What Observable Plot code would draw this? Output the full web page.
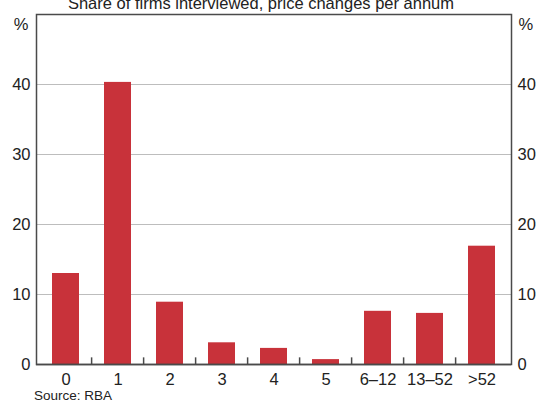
<!DOCTYPE html>
<html>
<head>
<meta charset="utf-8">
<script src="https://cdn.jsdelivr.net/npm/d3@7"></script>
<script src="https://cdn.jsdelivr.net/npm/@observablehq/plot@0.6"></script>
<style>
  html, body { margin: 0; padding: 0; background: #fff; overflow: hidden; }
  body { width: 538px; height: 402px; font-family: "Liberation Sans", Arial, sans-serif; color: #222; }
  #title { position: relative; height: 10px; }
  #title span { position: absolute; top: -5px; left: 0; width: 522px; text-align: center; font-size: 16.5px; line-height: 16px; white-space: nowrap; }
  #chart svg { display: block; }
  #source { font-size: 13.5px; line-height: 11px; height: 11px; padding-left: 34px; padding-top: 2px; }
</style>
</head>
<body>
<div id="title"><span>Share of firms interviewed, price changes per annum</span></div>
<div id="chart"></div>
<div id="source">Source: RBA</div>
<script>
const categories = ["0", "1", "2", "3", "4", "5", "6–12", "13–52", ">52"];
const shares = [13.0, 40.3, 8.9, 3.1, 2.3, 0.7, 7.6, 7.3, 16.9];
const yTicks = [0, 10, 20, 30, 40];
const unitLabel = "%";
const titleText = "Share of firms interviewed, price changes per annum";
const sourceText = "Source: RBA";

const data = categories.map((c, i) => ({category: c, share: shares[i]}));

const width = 538, height = 378;
const marginLeft = 36, marginRight = 27, marginTop = 4, marginBottom = 24;
const padInner = 0.49, padOuter = 0.245;
const step = (width - marginLeft - marginRight) / (categories.length - padInner + 2 * padOuter);

const axisColor = "#4a4a4a";
const fs = 16.5;

const chart = Plot.plot({
  width, height, marginLeft, marginRight, marginTop, marginBottom,
  style: {fontFamily: "'Liberation Sans', Arial, sans-serif", fontSize: fs + "px", color: "#222", background: "#fff"},
  x: {domain: categories, paddingInner: padInner, paddingOuter: padOuter, label: null},
  y: {domain: [0, 50], label: null},
  marks: [
    Plot.gridY(yTicks.slice(1), {stroke: "#bdbdbd", strokeOpacity: 1, strokeWidth: 1}),
    Plot.barY(data, {x: "category", y: "share", fill: "#c8323a"}),
    Plot.ruleX(categories.slice(1), {x: d => d, y1: 0, y2: 0.95, dx: -step / 2, stroke: axisColor, strokeWidth: 1.5}),
    Plot.ruleY([0], {stroke: axisColor, strokeWidth: 1.5}),
    Plot.frame({stroke: axisColor, strokeWidth: 1.5}),
    Plot.axisY(yTicks, {anchor: "left", tickSize: 0, tickPadding: 6, label: null, fill: "#222", fontSize: fs}),
    Plot.axisY(yTicks, {anchor: "right", tickSize: 0, tickPadding: 6, label: null, fill: "#222", fontSize: fs}),
    Plot.axisX({anchor: "bottom", tickSize: 0, tickPadding: 9, label: null, fill: "#222", fontSize: fs}),
    Plot.text([unitLabel], {frameAnchor: "top-left", text: d => d, dx: -8, dy: 4, textAnchor: "end", fill: "#222", fontSize: fs}),
    Plot.text([unitLabel], {frameAnchor: "top-right", text: d => d, dx: 7, dy: 4, textAnchor: "start", fill: "#222", fontSize: fs})
  ]
});
document.getElementById("chart").appendChild(chart);
document.querySelector("#title span").textContent = titleText;
document.getElementById("source").textContent = sourceText;
</script>
</body>
</html>
